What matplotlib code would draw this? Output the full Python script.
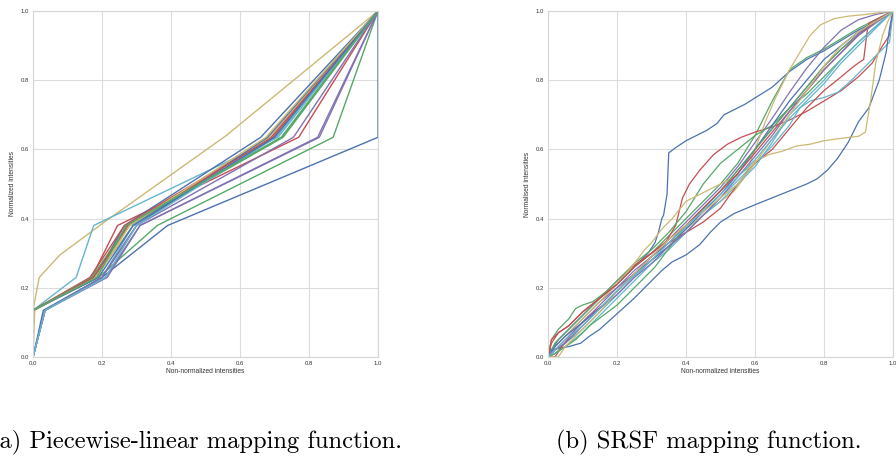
import matplotlib
matplotlib.use("Agg")
import matplotlib.pyplot as plt

# seaborn "deep" palette (old style)
PALETTE = ["#4C72B0", "#55A868", "#C44E52", "#8172B2", "#CCB974", "#64B5CD"]

# ---- (a) piecewise-linear mappings: landmark x positions per curve ----
LEVELS = [0.0, 0.135, 0.23, 0.38, 0.635, 1.0]
pl_x = [
    [0.0, 0.035, 0.20, 0.39, 1.0, 1.0],
    [0.0, 0.0, 0.19, 0.36, 0.87, 1.0],
    [0.0, 0.0, 0.17, 0.245, 0.77, 1.0],
    [0.0, 0.035, 0.21, 0.31, 0.83, 1.0],
    [0.0, 0.018, 0.078, 0.20, 0.56, 1.0],
    [0.0, 0.0, 0.125, 0.176, 0.71, 1.0],
    [0.0, 0.0, 0.18, 0.265, 0.66, 1.0],
    [0.0, 0.0, 0.175, 0.28, 0.72, 1.0],
    [0.0, 0.0, 0.165, 0.265, 0.69, 1.0],
    [0.0, 0.035, 0.215, 0.31, 0.825, 1.0],
    [0.0, 0.005, 0.18, 0.29, 0.685, 1.0],
    [0.0, 0.035, 0.20, 0.29, 0.70, 1.0],
    [0.0, 0.03, 0.20, 0.30, 0.68, 1.0],
    [0.0, 0.0, 0.17, 0.275, 0.725, 1.0],
    [0.0, 0.0, 0.175, 0.275, 0.695, 1.0],
    [0.0, 0.035, 0.20, 0.30, 0.755, 1.0],
    [0.0, 0.0, 0.185, 0.28, 0.675, 1.0],
    [0.0, 0.035, 0.21, 0.30, 0.705, 1.0],
    [0.0, 0.0, 0.19, 0.29, 0.70, 1.0],
    [0.0, 0.0, 0.185, 0.27, 0.72, 1.0],
]
# curves whose landmark heights differ from LEVELS
pl_y_special = {
    4: [0.135, 0.23, 0.295, 0.385, 0.64, 1.0],
}

# ---- (b) SRSF mappings ----
srsf_x = [
    [0, 0.01, 0.03, 0.06, 0.1, 0.15, 0.2, 0.25, 0.29, 0.31, 0.32, 0.33, 0.335, 0.345, 0.35, 0.37, 0.4, 0.43, 0.46, 0.49, 0.51, 0.53, 0.57, 0.61, 0.65, 0.7, 0.75, 0.8, 0.85, 0.9, 0.95, 1.0],
    [0, 0.02, 0.05, 0.1, 0.15, 0.2, 0.25, 0.3, 0.35, 0.4, 0.45, 0.5, 0.55, 0.6, 0.65, 0.7, 0.75, 0.8, 0.85, 0.9, 0.95, 1.0],
    [0, 0.01, 0.03, 0.06, 0.1, 0.15, 0.2, 0.25, 0.3, 0.34, 0.37, 0.39, 0.41, 0.44, 0.48, 0.52, 0.56, 0.6, 0.65, 0.7, 0.75, 0.8, 0.85, 0.9, 0.94, 0.97, 0.99, 1.0],
    [0, 0.02, 0.05, 0.1, 0.15, 0.2, 0.25, 0.3, 0.35, 0.4, 0.45, 0.5, 0.55, 0.6, 0.65, 0.7, 0.75, 0.8, 0.85, 0.9, 0.95, 1.0],
    [0, 0.02, 0.05, 0.1, 0.15, 0.2, 0.25, 0.3, 0.35, 0.4, 0.45, 0.5, 0.54, 0.57, 0.6, 0.63, 0.66, 0.7, 0.73, 0.76, 0.79, 0.83, 0.87, 0.92, 0.96, 1.0],
    [0, 0.02, 0.05, 0.1, 0.15, 0.2, 0.25, 0.3, 0.35, 0.4, 0.45, 0.5, 0.55, 0.6, 0.65, 0.7, 0.73, 0.76, 0.8, 0.84, 0.88, 0.92, 0.96, 0.99, 1.0],
    [0, 0.005, 0.03, 0.06, 0.095, 0.12, 0.15, 0.2, 0.25, 0.3, 0.33, 0.36, 0.4, 0.44, 0.47, 0.5, 0.54, 0.6, 0.65, 0.7, 0.75, 0.78, 0.81, 0.84, 0.87, 0.9, 0.93, 0.96, 0.98, 0.99, 1.0],
    [0, 0.01, 0.03, 0.06, 0.08, 0.1, 0.13, 0.17, 0.2, 0.25, 0.3, 0.35, 0.4, 0.45, 0.5, 0.55, 0.6, 0.65, 0.7, 0.75, 0.8, 0.85, 0.9, 0.95, 1.0],
    [0, 0.02, 0.04, 0.08, 0.12, 0.16, 0.2, 0.25, 0.3, 0.35, 0.4, 0.45, 0.5, 0.55, 0.6, 0.65, 0.7, 0.75, 0.8, 0.85, 0.88, 0.9, 0.915, 0.92, 0.925, 0.93, 0.95, 0.98, 1.0],
    [0, 0.02, 0.05, 0.1, 0.15, 0.2, 0.25, 0.3, 0.35, 0.4, 0.45, 0.5, 0.55, 0.6, 0.65, 0.7, 0.75, 0.8, 0.85, 0.9, 0.95, 1.0],
    [0, 0.02, 0.05, 0.1, 0.15, 0.2, 0.25, 0.28, 0.3, 0.33, 0.36, 0.4, 0.44, 0.48, 0.52, 0.55, 0.58, 0.6, 0.64, 0.68, 0.72, 0.76, 0.8, 0.85, 0.9, 0.92, 0.935, 0.95, 0.97, 0.985, 1.0],
    [0, 0.02, 0.05, 0.1, 0.15, 0.2, 0.25, 0.3, 0.35, 0.4, 0.45, 0.5, 0.55, 0.6, 0.65, 0.7, 0.72, 0.75, 0.8, 0.85, 0.9, 0.95, 1.0],
    [0, 0.02, 0.05, 0.1, 0.15, 0.2, 0.25, 0.3, 0.35, 0.4, 0.45, 0.5, 0.55, 0.6, 0.65, 0.7, 0.75, 0.8, 0.85, 0.9, 0.95, 1.0],
    [0, 0.02, 0.05, 0.08, 0.12, 0.16, 0.2, 0.25, 0.28, 0.31, 0.34, 0.37, 0.4, 0.45, 0.5, 0.55, 0.6, 0.65, 0.7, 0.75, 0.8, 0.85, 0.9, 0.95, 1.0],
    [0, 0.01, 0.03, 0.06, 0.1, 0.15, 0.2, 0.25, 0.3, 0.35, 0.4, 0.45, 0.5, 0.55, 0.6, 0.65, 0.7, 0.75, 0.8, 0.85, 0.9, 0.95, 1.0],
    [0, 0.02, 0.05, 0.1, 0.15, 0.2, 0.25, 0.3, 0.35, 0.4, 0.45, 0.5, 0.55, 0.6, 0.65, 0.7, 0.75, 0.8, 0.85, 0.9, 0.95, 1.0],
    [0, 0.03, 0.05, 0.1, 0.15, 0.2, 0.25, 0.3, 0.35, 0.4, 0.45, 0.5, 0.55, 0.6, 0.65, 0.7, 0.75, 0.8, 0.85, 0.9, 0.95, 1.0],
    [0, 0.02, 0.05, 0.1, 0.15, 0.2, 0.25, 0.3, 0.35, 0.4, 0.45, 0.5, 0.55, 0.6, 0.65, 0.7, 0.75, 0.8, 0.85, 0.9, 0.95, 1.0],
]
srsf_y = [
    [0, 0.02, 0.05, 0.08, 0.12, 0.17, 0.21, 0.26, 0.3, 0.33, 0.36, 0.4, 0.41, 0.47, 0.59, 0.605, 0.625, 0.64, 0.655, 0.675, 0.70, 0.71, 0.73, 0.755, 0.78, 0.825, 0.86, 0.885, 0.915, 0.945, 0.97, 1.0],
    [0, 0.04, 0.07, 0.12, 0.17, 0.21, 0.26, 0.3, 0.35, 0.4, 0.45, 0.5, 0.56, 0.64, 0.74, 0.83, 0.865, 0.89, 0.92, 0.95, 0.975, 1.0],
    [0, 0.04, 0.07, 0.09, 0.13, 0.17, 0.22, 0.265, 0.3, 0.33, 0.38, 0.46, 0.5, 0.54, 0.585, 0.615, 0.635, 0.65, 0.665, 0.685, 0.71, 0.74, 0.77, 0.81, 0.85, 0.9, 0.93, 1.0],
    [0, 0.03, 0.06, 0.11, 0.16, 0.2, 0.25, 0.29, 0.34, 0.39, 0.44, 0.49, 0.55, 0.62, 0.69, 0.765, 0.835, 0.895, 0.945, 0.975, 0.99, 1.0],
    [0, 0.01, 0.04, 0.09, 0.14, 0.19, 0.24, 0.28, 0.32, 0.37, 0.41, 0.45, 0.48, 0.52, 0.6, 0.68, 0.75, 0.83, 0.88, 0.93, 0.96, 0.978, 0.985, 0.99, 0.995, 1.0],
    [0, 0.02, 0.04, 0.08, 0.13, 0.18, 0.23, 0.28, 0.32, 0.36, 0.41, 0.46, 0.51, 0.56, 0.61, 0.67, 0.72, 0.74, 0.75, 0.765, 0.8, 0.84, 0.88, 0.91, 1.0],
    [0, 0.02, 0.025, 0.03, 0.04, 0.06, 0.08, 0.125, 0.17, 0.22, 0.25, 0.275, 0.295, 0.325, 0.36, 0.39, 0.415, 0.44, 0.46, 0.48, 0.5, 0.515, 0.54, 0.575, 0.62, 0.68, 0.72, 0.8, 0.88, 0.95, 1.0],
    [0, 0.05, 0.08, 0.11, 0.14, 0.15, 0.16, 0.19, 0.22, 0.27, 0.31, 0.36, 0.42, 0.5, 0.56, 0.6, 0.64, 0.67, 0.72, 0.76, 0.81, 0.86, 0.91, 0.955, 1.0],
    [0, 0.0, 0.03, 0.08, 0.12, 0.15, 0.19, 0.24, 0.29, 0.33, 0.36, 0.39, 0.43, 0.5, 0.56, 0.6, 0.66, 0.72, 0.77, 0.81, 0.835, 0.85, 0.86, 0.9, 0.94, 0.965, 0.975, 0.99, 1.0],
    [0, 0.02, 0.05, 0.1, 0.15, 0.2, 0.24, 0.29, 0.33, 0.38, 0.43, 0.48, 0.54, 0.6, 0.66, 0.72, 0.78, 0.84, 0.89, 0.935, 0.97, 1.0],
    [0, 0.03, 0.06, 0.11, 0.16, 0.21, 0.27, 0.31, 0.33, 0.37, 0.4, 0.45, 0.47, 0.49, 0.51, 0.525, 0.545, 0.565, 0.585, 0.595, 0.61, 0.615, 0.625, 0.632, 0.638, 0.65, 0.74, 0.85, 0.93, 0.97, 1.0],
    [0, 0.01, 0.03, 0.07, 0.12, 0.17, 0.22, 0.27, 0.31, 0.36, 0.41, 0.45, 0.5, 0.55, 0.62, 0.7, 0.72, 0.75, 0.8, 0.86, 0.91, 0.955, 1.0],
    [0, 0.03, 0.06, 0.1, 0.14, 0.19, 0.24, 0.28, 0.32, 0.37, 0.42, 0.47, 0.53, 0.6, 0.67, 0.74, 0.8, 0.86, 0.9, 0.94, 0.97, 1.0],
    [0, 0.01, 0.03, 0.05, 0.09, 0.12, 0.15, 0.2, 0.23, 0.26, 0.3, 0.34, 0.38, 0.43, 0.48, 0.54, 0.6, 0.66, 0.72, 0.78, 0.84, 0.89, 0.93, 0.97, 1.0],
    [0, 0.05, 0.07, 0.09, 0.13, 0.17, 0.21, 0.26, 0.3, 0.34, 0.38, 0.43, 0.48, 0.53, 0.59, 0.65, 0.71, 0.77, 0.83, 0.88, 0.93, 0.97, 1.0],
    [0, 0.02, 0.04, 0.09, 0.14, 0.18, 0.23, 0.27, 0.32, 0.36, 0.41, 0.46, 0.52, 0.58, 0.64, 0.71, 0.77, 0.83, 0.88, 0.93, 0.965, 1.0],
    [0, 0.0, 0.03, 0.08, 0.13, 0.19, 0.24, 0.29, 0.34, 0.38, 0.42, 0.46, 0.5, 0.56, 0.63, 0.7, 0.77, 0.84, 0.9, 0.94, 0.97, 1.0],
    [0, 0.02, 0.05, 0.09, 0.14, 0.19, 0.235, 0.28, 0.33, 0.375, 0.425, 0.47, 0.52, 0.57, 0.63, 0.69, 0.74, 0.79, 0.85, 0.9, 0.95, 1.0],
]
srsf_color = [0, 1, 2, 3, 4, 5, 0, 1, 2, 3, 4, 5, 0, 1, 2, 3, 4, 5]

TICKS = [0.0, 0.2, 0.4, 0.6, 0.8, 1.0]

plt.rcParams.update({
    "font.family": ["Liberation Sans", "DejaVu Sans"],
    "axes.edgecolor": "#d6d6d6",
    "grid.color": "#dcdcdc",
    "grid.linewidth": 0.8,
})

fig = plt.figure(figsize=(8.96, 4.58), dpi=100)
W, H = 896, 458
ax_a = fig.add_axes([33 / W, (H - 357) / H, 345 / W, 346 / H])
ax_b = fig.add_axes([548 / W, (H - 357) / H, 345 / W, 346 / H])

for i, xs in enumerate(pl_x):
    ys = pl_y_special.get(i, LEVELS)
    ax_a.plot(xs, ys, color=PALETTE[i % 6], lw=1.0)

for xs, ys, c in zip(srsf_x, srsf_y, srsf_color):
    ax_b.plot(xs, ys, color=PALETTE[c], lw=0.9)

for ax, ylabel in [(ax_a, "Normalized intensities"), (ax_b, "Normalised intensities")]:
    ax.set_facecolor("white")
    ax.set_xlim(0, 1)
    ax.set_ylim(0, 1)
    ax.set_xticks(TICKS)
    ax.set_yticks(TICKS)
    ax.set_xticklabels([f"{t:.1f}" for t in TICKS])
    ax.set_yticklabels([f"{t:.1f}" for t in TICKS])
    ax.tick_params(length=0, labelsize=4.3, labelcolor="#333333", pad=3)
    ax.grid(True)
    ax.set_axisbelow(True)
    for s in ax.spines.values():
        s.set_linewidth(0.8)
    ax.set_xlabel("Non-normalized intensities", fontsize=4.8, color="#333333", labelpad=1.5)
    ax.set_ylabel(ylabel, fontsize=4.8, color="#333333", labelpad=3)

# the reference crops the opening parenthesis of caption (a) at the left edge
fig.text(196 / W, (H - 448) / H, "(a) Piecewise-linear mapping function.",
         fontname="cmr10", fontsize=17.7, ha="center", va="baseline")
fig.text(709 / W, (H - 448) / H, "(b) SRSF mapping function.",
         fontname="cmr10", fontsize=17.7, ha="center", va="baseline")

fig.savefig("out.png", dpi=100)
